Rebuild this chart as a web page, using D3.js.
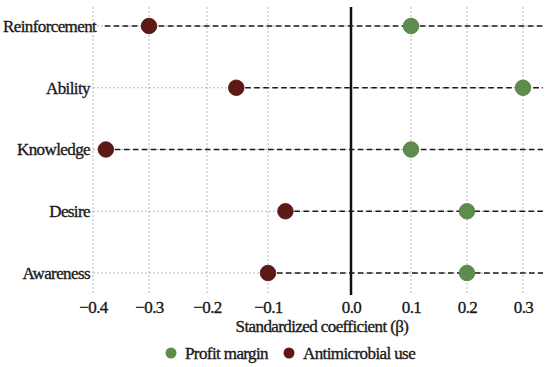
<!DOCTYPE html>
<html>
<head>
<meta charset="utf-8">
<script src="https://cdn.jsdelivr.net/npm/d3@7"></script>
<style>
  body { margin: 0; background: #fff; }
  svg text { font-family: "Liberation Serif", "DejaVu Serif", serif; fill: #1a1a1a;
             stroke: #1a1a1a; stroke-width: 0.35px; letter-spacing: -0.6px; }
</style>
</head>
<body>
<div id="chart_area"></div>
<script>
// Data.
var categories = ["Reinforcement", "Ability", "Knowledge", "Desire", "Awareness"];
var profit_margin = [0.1, 0.3, 0.1, 0.2, 0.2];
var antimicrobial_use = [-0.3, -0.152, -0.377, -0.079, -0.1];
var line_start = [-0.379, -0.152, -0.377, -0.079, -0.1];
var x_ticks = [-0.4, -0.3, -0.2, -0.1, 0.0, 0.1, 0.2, 0.3];
var x_max = 0.336;
var series_names = ["Profit margin", "Antimicrobial use"];
var series_colors = ["#5e8c4c", "#5c1915"];

var frame_width = 550, frame_height = 367;
var plot = {left: 93, right: 543, top: 7, bottom: 295};

var frame = d3.select("#chart_area").append("svg")
	.attr("width", frame_width)
	.attr("height", frame_height);

// The source axis is not evenly spaced (the gap around zero is wider),
// so a piecewise linear scale is used.
var xScale = d3.scaleLinear()
	.domain(x_ticks.concat([x_max]))
	.range([93, 149, 207, 268, 351, 411, 467, 523, plot.right]);

var yScale = d3.scalePoint()
	.domain(categories)
	.range([26, 273]);

// vertical dotted grid
frame.append("g").selectAll("line")
	.data(x_ticks.filter(function(d) { return d !== 0; }))
	.enter().append("line")
	.attr("x1", function(d) { return xScale(d); })
	.attr("x2", function(d) { return xScale(d); })
	.attr("y1", plot.top)
	.attr("y2", plot.bottom)
	.style("stroke", "#b8b8b8")
	.style("stroke-width", 1)
	.style("stroke-dasharray", "2,2");

// horizontal dotted grid
frame.append("g").selectAll("line")
	.data(categories)
	.enter().append("line")
	.attr("x1", plot.left)
	.attr("x2", plot.right)
	.attr("y1", function(d) { return yScale(d); })
	.attr("y2", function(d) { return yScale(d); })
	.style("stroke", "#b8b8b8")
	.style("stroke-width", 1)
	.style("stroke-dasharray", "2,2");

// zero line
frame.append("line")
	.attr("x1", xScale(0)).attr("x2", xScale(0))
	.attr("y1", plot.top).attr("y2", plot.bottom)
	.style("stroke", "#111")
	.style("stroke-width", 2.5);

// dashed connector lines
frame.append("g").selectAll("line")
	.data(categories)
	.enter().append("line")
	.attr("x1", function(d, i) { return xScale(line_start[i]); })
	.attr("x2", xScale(x_max))
	.attr("y1", function(d) { return yScale(d); })
	.attr("y2", function(d) { return yScale(d); })
	.style("stroke", "#1a1a1a")
	.style("stroke-width", 1.6)
	.style("stroke-dasharray", "5.5,3.5");

// x axis (labels only)
var xAxis = d3.axisBottom(xScale)
	.tickValues(x_ticks)
	.tickSize(0)
	.tickPadding(0)
	.tickFormat(function(d) { return d3.format(".1f")(d).replace("-", "\u2212"); });

var gx = frame.append("g")
	.attr("transform", "translate(0," + plot.bottom + ")")
	.call(xAxis)
	.attr("font-family", null)
	.attr("font-size", null);
gx.select(".domain").remove();
gx.selectAll("text")
	.attr("dy", "0.71em")
	.attr("y", 6)
	.attr("fill", null)
	.style("font-size", "17px");

frame.append("text")
	.attr("x", (plot.left + plot.right) / 2 + 4)
	.attr("y", 332)
	.attr("text-anchor", "middle")
	.style("font-size", "17px")
	.text("Standardized coefficient (\u03b2)");

// y axis labels
frame.append("g").selectAll("text")
	.data(categories)
	.enter().append("text")
	.attr("x", 90)
	.attr("y", function(d) { return yScale(d); })
	.attr("dy", "0.35em")
	.attr("text-anchor", "end")
	.style("font-size", "17px")
	.text(function(d) { return d; })
	.each(function() {
		// keep long labels inside the frame
		var bb = this.getBBox();
		if (bb.x < 3) d3.select(this).attr("text-anchor", "start").attr("x", 3);
	});

// points
var series = [profit_margin, antimicrobial_use];
series.forEach(function(values, s) {
	frame.append("g").selectAll("circle")
		.data(values)
		.enter().append("circle")
		.attr("cx", function(d) { return xScale(d); })
		.attr("cy", function(d, i) { return yScale(categories[i]); })
		.attr("r", 7.8)
		.style("fill", series_colors[s])
		.style("stroke", d3.color(series_colors[s]).darker(0.3))
		.style("stroke-width", 0.8);
});

// legend
var legend_x = [171, 289];
var legend = frame.append("g").selectAll("g")
	.data(series_names)
	.enter().append("g")
	.attr("transform", function(d, i) { return "translate(" + legend_x[i] + ",353)"; });

legend.append("circle")
	.attr("r", 5.5)
	.style("fill", function(d, i) { return series_colors[i]; });

legend.append("text")
	.attr("x", 14)
	.attr("dy", "0.35em")
	.style("font-size", "17px")
	.text(function(d) { return d; });
</script>
</body>
</html>
